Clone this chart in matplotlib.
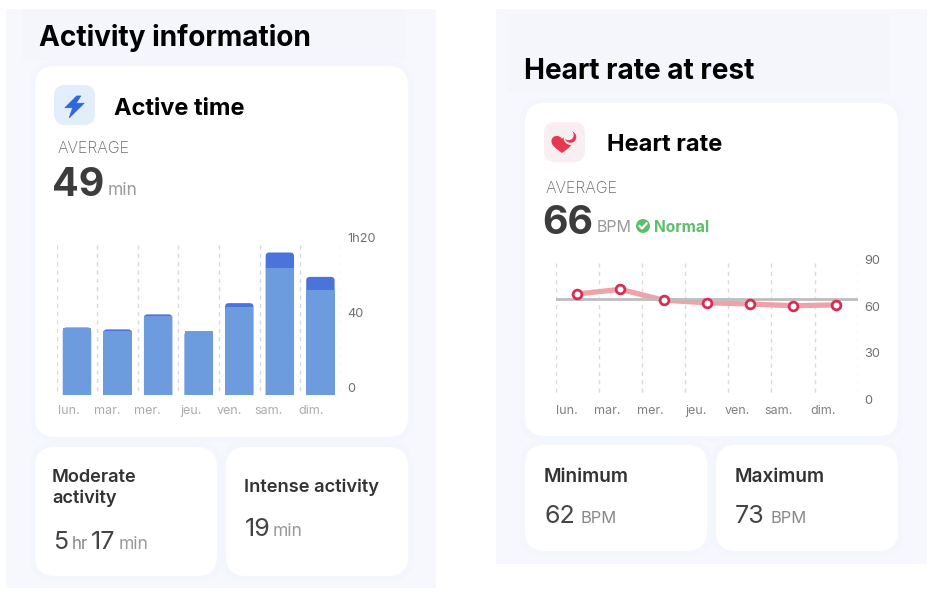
import matplotlib
matplotlib.use("Agg")
import matplotlib.pyplot as plt
from matplotlib.patches import FancyBboxPatch, PathPatch, Circle, Polygon
from matplotlib.path import Path
from matplotlib.transforms import Affine2D

W, H = 934, 597
FONT = "Inter"
plt.rcParams["font.family"] = [FONT, "DejaVu Sans"]

days = ["lun.", "mar.", "mer.", "jeu.", "ven.", "sam.", "dim."]
moderate = [36, 34, 42, 34, 47, 68, 56]
total_active = [36, 35, 43, 34, 49, 76, 63]
active_ticks = [0, 40, 80]
active_tick_labels = ["0", "40", "1h20"]
heart_rate = [68, 71, 64, 62.3, 61.5, 60.4, 60.9]
heart_reference = 64.6
heart_ticks = [0, 30, 60, 90]

fig = plt.figure(figsize=(W / 100, H / 100), dpi=100, facecolor="white")
bg = fig.add_axes([0, 0, 1, 1], zorder=0)
bg.set_xlim(0, W)
bg.set_ylim(H, 0)
bg.axis("off")


def panel(x0, y0, x1, y1, r, color):
    bg.add_patch(FancyBboxPatch((x0, y0), x1 - x0, y1 - y0,
                                boxstyle=f"round,pad=0,rounding_size={r}" if r else "square,pad=0",
                                fc=color, ec="none", mutation_aspect=1))


def txt(x, y, s, size, color="#000000", weight="normal", va="baseline", ha="left"):
    bg.text(x, y, s, fontsize=size * 0.72, color=color, fontweight=weight, va=va, ha=ha)


def px_axes(left, top, right, bottom):
    ax = fig.add_axes([left / W, 1 - bottom / H, (right - left) / W, (bottom - top) / H], zorder=2)
    ax.patch.set_alpha(0)
    for s in ax.spines.values():
        s.set_visible(False)
    return ax


# backgrounds
panel(6, 9, 436, 588, 0, "#F6F8FE")
panel(22, 10, 405, 60, 0, "#F4F6FC")
panel(496, 9, 927, 564, 0, "#F6F8FE")
panel(508, 14, 890, 93, 0, "#F4F6FC")
cards = [(35, 66, 408, 437), (35, 447, 217, 576), (226, 447, 408, 576),
         (525, 103, 898, 436), (525, 445, 707, 551), (716, 445, 898, 551)]
for x0, y0, x1, y1 in cards:
    panel(x0 - 5, y0 - 5, x1 + 5, y1 + 5, 24, "#F3F6FC")
for box in cards:
    panel(*box, 20, "white")

# left texts
txt(39, 46, "Activity information", 28, weight="bold")
txt(114, 115, "Active time", 23.6, weight="bold")
txt(58, 153, "AVERAGE", 16, "#66666E", "light")
txt(52.5, 196.5, "49", 39.5, "#3C3C3C", "bold")
txt(108, 195, "min", 17.5, "#999999")
txt(52, 482, "Moderate", 18.2, "#333333", "semibold")
txt(52, 503, "activity", 18.2, "#333333", "semibold")
txt(53, 549, "5", 25, "#444444")
txt(72, 549, "hr", 17, "#888888")
txt(91, 549, "17", 25, "#444444")
txt(119, 549, "min", 17.5, "#999999")
txt(244, 492, "Intense activity", 18.3, "#333333", "semibold")
txt(245, 536, "19", 25, "#444444")
txt(273, 536, "min", 17.5, "#999999")

# right texts
txt(524, 79, "Heart rate at rest", 28, weight="bold")
txt(607, 151, "Heart rate", 23.6, weight="bold")
txt(546, 193, "AVERAGE", 16, "#66666E", "light")
txt(542.5, 234, "66", 39.5, "#3C3C3C", "bold")
txt(597, 232, "BPM", 16, "#999999")
txt(654, 232, "Normal", 15.5, "#5CBF6A", "bold")
txt(544, 482, "Minimum", 19, "#333333", "semibold")
txt(544, 523, "62", 25, "#444444")
txt(580, 523, "BPM", 16.5, "#888888")
txt(735, 482, "Maximum", 19, "#333333", "semibold")
txt(735, 523, "73", 25, "#444444")
txt(771, 523, "BPM", 16.5, "#888888")

# icons
panel(54, 85, 95, 125, 11, "#E3EEFB")
bg.add_patch(Polygon([(76.7, 96), (65, 107.7), (72.7, 107.7), (69.3, 117.7),
                      (84, 103.3), (76, 103.3), (80.7, 96)],
                     closed=True, fc="#2F66DE", ec="#2F66DE", lw=0.6, joinstyle="round"))
panel(544, 122, 585, 162, 11, "#F9EEF1")
heart = Path([(562, 153), (555, 148), (551, 145), (551.5, 140.5),
              (552, 135.5), (559, 134), (562, 139),
              (565, 134), (572, 135.5), (572.5, 140.5),
              (573, 145), (569, 148), (562, 153), (562, 153)],
             [Path.MOVETO] + [Path.CURVE4] * 12 + [Path.CLOSEPOLY])
bg.add_patch(PathPatch(heart, fc="#E63950", ec="none"))
bg.add_patch(Circle((571, 137.5), 7.5, fc="#F9EEF1", ec="none"))
bg.add_patch(Circle((570.5, 137), 5.8, fc="#E63950", ec="none"))
bg.add_patch(Circle((568.5, 135), 5.2, fc="#F9EEF1", ec="none"))
bg.add_patch(Circle((643, 226), 7, fc="#5CBF6A", ec="none"))
bg.plot([639.5, 642, 646.5], [226, 228.5, 223.5], color="white", lw=1.6)

# bar chart
ax = px_axes(56.7, 245, 340.7, 395)
ax.set_xlim(0, 7)
ax.set_ylim(0, 80)
centers = [i + 0.5 for i in range(7)]
bar_w = 0.7
aspect = (80 / 150) / (7 / 284)
for c, top in zip(centers, total_active):
    ax.add_patch(FancyBboxPatch((c - bar_w / 2, -10), bar_w, top + 10,
                                boxstyle="round,pad=0,rounding_size=0.09",
                                mutation_aspect=aspect, fc="#4A74DC", ec="none", zorder=3))
ax.bar(centers, moderate, width=bar_w, color="#6C9CDD", zorder=4)
ax.set_xticks([i + 0.575 for i in range(7)])
ax.set_xticklabels(days, ha="right", fontsize=9, color="#ABABAB")
ax.set_yticks(active_ticks)
ax.set_yticklabels(active_tick_labels, fontsize=9.2, color="#707070")
ax.yaxis.tick_right()
ax.tick_params(axis="both", which="both", length=0)
ax.tick_params(axis="x", pad=7)
ax.tick_params(axis="y", pad=5)
ax.vlines(range(8), 80, 0, color="#DADADA", lw=1, linestyle=(0, (3, 3)), zorder=1)
for lab in ax.get_yticklabels():
    lab.set_transform(lab.get_transform() + Affine2D().translate(0, 8))

# line chart
ax2 = px_axes(555.7, 260, 857.7, 399)
ax2.set_xlim(0, 7)
ax2.set_ylim(0, 90)
ax2.vlines(range(8), 88.3, 3.2, color="#DADADA", lw=1, linestyle=(0, (3, 3)), zorder=1)
ax2.plot(centers, heart_rate, color="#EFA3A8", lw=3.8, zorder=2, solid_joinstyle="round")
ax2.axhline(heart_reference, color="#BDBDBD", lw=2, zorder=3)
ax2.plot(centers, heart_rate, ls="none", marker="o", ms=6.3, mfc="white", mec="#D92C54", mew=2, zorder=4)
ax2.set_xticks(centers)
ax2.set_xticklabels(days, ha="right", fontsize=9, color="#808080")
ax2.set_yticks(heart_ticks)
ax2.set_yticklabels([str(t) for t in heart_ticks], fontsize=9.2, color="#707070")
ax2.yaxis.tick_right()
ax2.tick_params(axis="both", which="both", length=0)
ax2.tick_params(axis="x", pad=4)
ax2.tick_params(axis="y", pad=5)

fig.savefig("out.png", dpi=100)
